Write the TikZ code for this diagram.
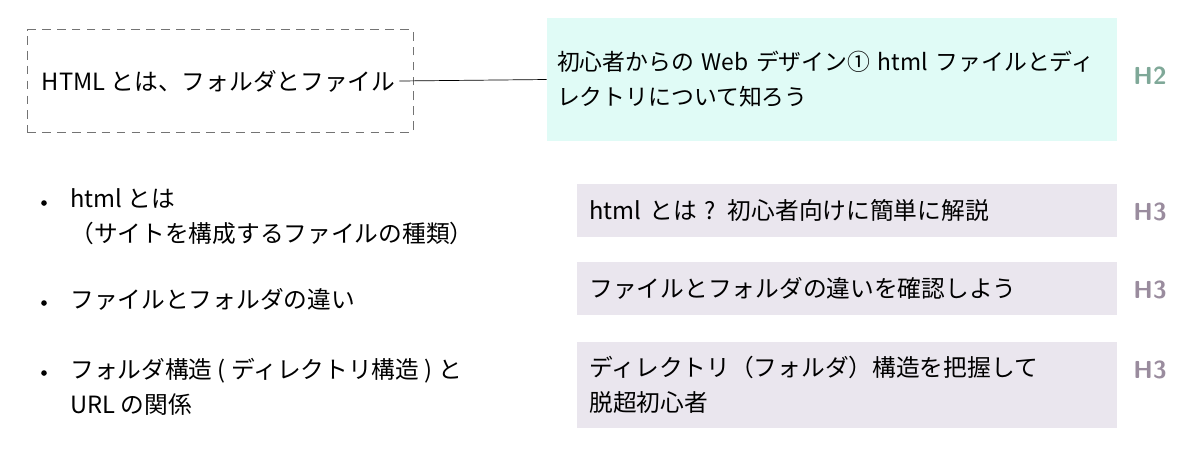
\documentclass[tikz,border=0pt]{standalone}
\usepackage{fontspec}
\setmainfont{Noto Sans CJK JP}
\usetikzlibrary{positioning}
\definecolor{htwo fill}{HTML}{E0FBF6}
\definecolor{htwo text}{HTML}{7FA898}
\definecolor{hthree fill}{HTML}{EAE6EE}
\definecolor{hthree text}{HTML}{9A8C9E}
\begin{document}
\begin{tikzpicture}[
  x=0.02cm, y=-0.02cm,
  font=\fontsize{13.5pt}{20pt}\selectfont,
  topic box/.style={
    draw=gray!90!black, dash pattern=on 5pt off 3.5pt, minimum width=7.72cm, minimum height=2.06cm,
  },
  htwo box/.style={
    fill=htwo fill, minimum width=11.4cm, minimum height=2.46cm,
    text width=11.3cm, inner xsep=0.05cm, align=left,
    font=\fontsize{13pt}{20pt}\selectfont,
  },
  hthree box/.style={
    fill=hthree fill, minimum width=10.8cm, text width=10.3cm, align=left,
  },
  tag/.style={
    font=\sffamily\bfseries\fontsize{14pt}{16pt}\selectfont,
  },
  bullet item/.style={
    anchor=north west, align=left, inner sep=0pt,
  }
  ]
  \useasboundingbox (0,0) rectangle (1194,451);
  % top row
  \node[topic box] (topic) at (220,81) {};
  \node[anchor=west, fill=white, inner sep=2pt] (topictext) at (38,81) {HTML とは、フォルダとファイル};
  \node[htwo box] (htwo) at (832,79.5) {\hspace*{0.15cm}初心者からの Web デザイン① html ファイルとディ\\\hspace*{0.15cm}レクトリについて知ろう};
  \node[tag, text=htwo text] (htwotag) at (1150,76) {H2};
  \draw[thin] (topictext.east) -- (htwo.west);
  % sections
  \node[hthree box, minimum height=1.06cm] (sa) at (847,210.5) {html とは ? 初心者向けに簡単に解説};
  \node[hthree box, minimum height=1.06cm] (sb) at (847,288.5) {ファイルとフォルダの違いを確認しよう};
  \node[hthree box, minimum height=1.72cm] (sc) at (847,385) {ディレクトリ（フォルダ）構造を把握して\\脱超初心者};
  \foreach \y in {212,290,370} {
    \node[tag, text=hthree text] at (1150,\y) {H3};
  }
  % bullets
  \node[bullet item] (ia) at (70,188) {html とは\\（サイトを構成するファイルの種類）};
  \node[bullet item] (ib) at (70,288) {ファイルとフォルダの違い};
  \node[bullet item] (ic) at (70,358) {フォルダ構造 ( ディレクトリ構造 ) と\\URL の関係};
  \foreach \y in {203,303,373} {
    \fill (44,\y) circle (1.6pt);
  }
\end{tikzpicture}
\end{document}
